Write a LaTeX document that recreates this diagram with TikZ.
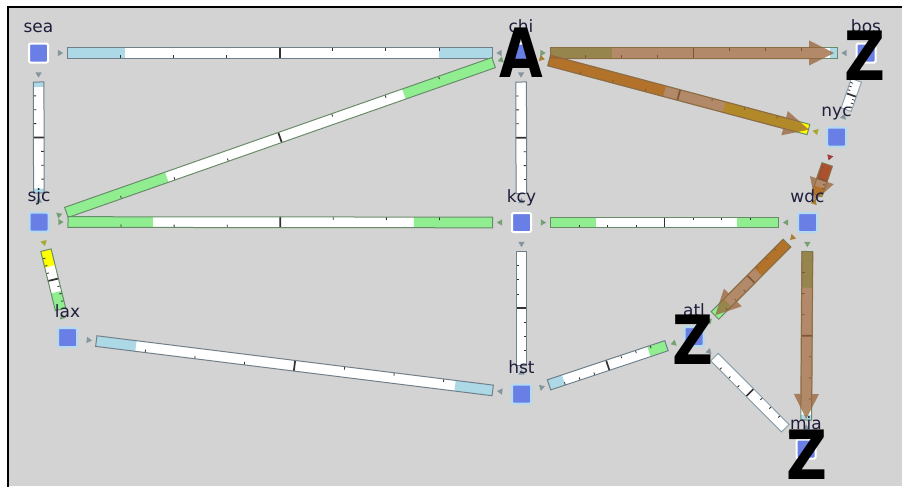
\documentclass[tikz,border=0pt]{standalone}
\usepackage{fontspec}
\setmainfont{DejaVu Sans}
\newfontfamily\bigfont{DejaVu Sans}
\pgfdeclarelayer{back}\pgfdeclarelayer{bars}\pgfdeclarelayer{over}
\pgfsetlayers{back,bars,over,main}
\definecolor{bggray}{RGB}{211,211,211}
\definecolor{lkblue}{RGB}{173,216,230}
\definecolor{lkgreen}{RGB}{144,238,144}
\definecolor{lkyellow}{RGB}{255,255,0}
\definecolor{lkorange}{RGB}{255,165,0}
\definecolor{lkred}{RGB}{235,30,20}
\definecolor{nodeblue}{RGB}{106,127,230}
\definecolor{halob}{RGB}{178,218,240}
\definecolor{ovlbrown}{RGB}{153,98,55}
\definecolor{labelcol}{RGB}{30,30,60}
\definecolor{olb}{RGB}{112,128,138}
\definecolor{olb2}{RGB}{140,160,172}
\definecolor{ogr}{RGB}{104,140,106}
\definecolor{tickcol}{RGB}{50,50,50}
\newcommand\lkgeom[2]{%
  \pgfpointdiff{\pgfpointanchor{#1}{center}}{\pgfpointanchor{#2}{center}}%
  \pgfgetlastxy{\lkdx}{\lkdy}%
  \pgfmathsetmacro\lkang{atan2(\lkdy,\lkdx)}%
  \pgfmathsetmacro\lklen{veclen(\lkdx,\lkdy)}%
}
% link bar: A, B, colour A->B, fraction, colour B->A, fraction, outline
\newcommand\linkbar[7]{%
  \lkgeom{#1}{#2}%
  \begin{scope}[shift={(#1.center)},rotate=\lkang,x=1pt,y=1pt]
    \pgfmathsetmacro\ua{21.75}%
    \pgfmathsetmacro\ub{\lklen-21.75}%
    \pgfmathsetmacro\um{\lklen/2}%
    \pgfmathsetmacro\hl{\um-\ua}%
    \fill[white] (\ua,-4) rectangle (\ub,4);
    \fill[#3] (\ua,-4) rectangle ({\ua+#4*\hl},4);
    \fill[#5] ({\ub-#6*\hl},-4) rectangle (\ub,4);
    \foreach \k in {1,2,3} {
      \draw[smalltick] ({\ua+\k*\hl/4},-4) -- ++(0,2.2);
      \draw[smalltick] ({\ub-\k*\hl/4},4) -- ++(0,-2.2);
    }
    \draw[bigtick] (\um,-4) -- (\um,4);
    \draw[#7,line width=0.75pt] (\ua,-4) rectangle (\ub,4);
    \fill[#3!55!gray!85!black] (14.5,-2.4) -- (18.5,0) -- (14.5,2.4) -- cycle;
    \fill[#5!55!gray!85!black] ({\lklen-14.5},-2.4) -- ({\lklen-18.5},0) -- ({\lklen-14.5},2.4) -- cycle;
  \end{scope}}
% path overlay arrow: A, B, tip distance from B, head length
\newcommand\pathover[4]{%
  \lkgeom{#1}{#2}%
  \begin{scope}[shift={(#1.center)},rotate=\lkang,x=1pt,y=1pt]
    \pgfmathsetmacro\ua{21.75}%
    \pgfmathsetmacro\ut{\lklen-#3}%
    \pgfmathsetmacro\uh{\ut-#4}%
    \fill[ovl] (\ua,-4.5) -- (\uh,-4.5) -- (\uh,-9.4) -- (\ut,0) -- (\uh,9.4) -- (\uh,4.5) -- (\ua,4.5) -- cycle;
  \end{scope}}
\begin{document}
\begin{tikzpicture}[x=0.75pt,y=-0.75pt,
  smalltick/.style={draw=tickcol,line width=0.6pt},
  bigtick/.style={draw=tickcol,line width=1.3pt},
  ovl/.style={fill=ovlbrown,fill opacity=0.75},
  routerw/.style={draw=white,fill=nodeblue,line width=1.5pt,minimum size=14.25pt,inner sep=0pt,rounded corners=1pt},
  routerb/.style={routerw,draw=halob},
  lbl/.style={anchor=base,inner sep=0pt,text=labelcol,font=\fontsize{12.75}{14}\selectfont},
  bigl/.style={inner sep=0pt,text=black,font=\bigfont\bfseries\fontsize{51}{51}\selectfont}]
\useasboundingbox (0,0) rectangle (902,486);
\begin{pgfonlayer}{back}
  \fill[white] (0,0) rectangle (902,486);
  \fill[bggray] (8,7) rectangle (902,486);
  \draw[black,line width=1.4pt] (8,490) -- (8,7) -- (906,7);
\end{pgfonlayer}

% routers
\node[routerw] (sea) at (38.5,53) {};
\node[routerw] (chi) at (521,53) {};
\node[routerw] (bos) at (866,53) {};
\node[routerb] (nyc) at (836.5,137) {};
\node[routerb] (sjc) at (39,222) {};
\node[routerw] (kcy) at (521.5,222.5) {};
\node[routerb] (wdc) at (807.5,222.5) {};
\node[routerb] (lax) at (67.5,337.5) {};
\node[routerb] (hst) at (521.5,394) {};
\node[routerb] (atl) at (694,336.5) {};
\node[routerw] (mia) at (806,449) {};

% links
\begin{pgfonlayer}{bars}
\linkbar{sea}{chi}{lkblue}{0.27}{lkblue}{0.25}{olb}
\linkbar{sea}{sjc}{lkblue}{0.09}{lkblue}{0.08}{olb}
\linkbar{chi}{sjc}{lkgreen}{0.42}{lkgreen}{0.47}{ogr}
\linkbar{chi}{kcy}{lkblue}{0}{lkblue}{0}{olb}
\linkbar{sjc}{kcy}{lkgreen}{0.40}{lkgreen}{0.37}{ogr}
\linkbar{kcy}{wdc}{lkgreen}{0.40}{lkgreen}{0.36}{ogr}
\linkbar{kcy}{hst}{lkblue}{0}{lkblue}{0}{olb}
\linkbar{sjc}{lax}{lkyellow}{0.55}{lkgreen}{0.58}{ogr}
\linkbar{lax}{hst}{lkblue}{0.20}{lkblue}{0.19}{olb}
\linkbar{hst}{atl}{lkblue}{0.25}{lkgreen}{0.30}{olb}
\linkbar{atl}{mia}{lkblue}{0}{lkblue}{0}{olb2}
\linkbar{wdc}{atl}{lkorange}{0.80}{lkgreen}{0.35}{ogr}
\linkbar{wdc}{mia}{lkgreen}{0.43}{lkblue}{0.06}{ogr}
\linkbar{nyc}{wdc}{lkred}{1}{lkorange}{0.5}{ogr}
\linkbar{chi}{bos}{lkgreen}{0.43}{lkblue}{0.05}{ogr}
\linkbar{chi}{nyc}{lkorange}{0.89}{lkyellow}{0.65}{ogr}
\linkbar{bos}{nyc}{lkblue}{0}{lkblue}{0}{olb2}
\end{pgfonlayer}

% path overlay
\begin{pgfonlayer}{over}
\pathover{chi}{bos}{24}{18.75}
\pathover{chi}{nyc}{21.5}{18.75}
\pathover{nyc}{wdc}{17}{16.5}
\pathover{wdc}{atl}{22}{18.75}
\pathover{wdc}{mia}{22.5}{18.75}
\end{pgfonlayer}

% labels
\node[lbl] (sea-l) at (38.5,32.5) {sea};
\node[lbl] (chi-l) at (521,32.5) {chi};
\node[lbl] (bos-l) at (866,32.5) {bos};
\node[lbl] (nyc-l) at (836.5,116.5) {nyc};
\node[lbl] (sjc-l) at (39,201.5) {sjc};
\node[lbl] (kcy-l) at (521.5,202) {kcy};
\node[lbl] (wdc-l) at (807.5,202) {wdc};
\node[lbl] (lax-l) at (67.5,317) {lax};
\node[lbl] (hst-l) at (521.5,373.5) {hst};
\node[lbl] (atl-l) at (694,316) {atl};
\node[lbl] (mia-l) at (806,429) {mia};

% source / destination letters
\node[bigl] (chi-A) at (521,53) {\scalebox{0.83}[1]{A}};
\node[bigl] (bos-Z) at (865,56) {\scalebox{0.83}[1]{Z}};
\node[bigl] (atl-Z) at (693,340) {\scalebox{0.83}[1]{Z}};
\node[bigl] (mia-Z) at (807,455) {\scalebox{0.83}[1]{Z}};
\end{tikzpicture}
\end{document}
